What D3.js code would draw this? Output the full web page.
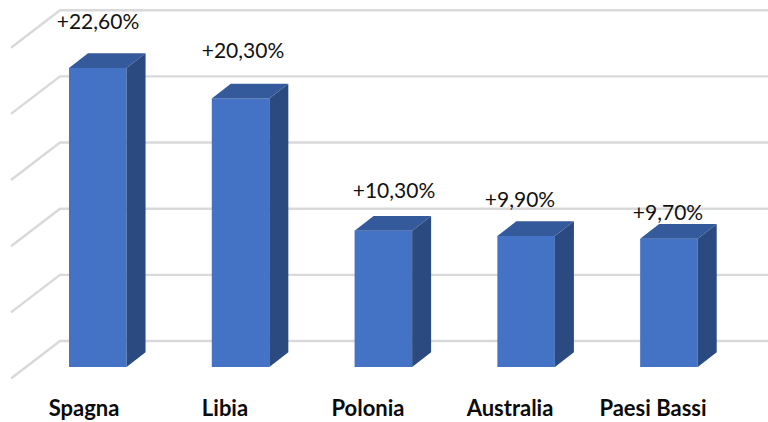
<!DOCTYPE html>
<html><head><meta charset="utf-8">
<script src="https://cdn.jsdelivr.net/npm/d3@7"></script>
<style>html,body{margin:0;padding:0;background:#fff}svg{display:block}</style>
</head><body><div id="c"></div>
<script>
const categories = ["Spagna","Libia","Polonia","Australia","Paesi Bassi"];
const values = [22.6,20.3,10.3,9.9,9.7];
const valueLabels = ["+22,60%","+20,30%","+10,30%","+9,90%","+9,70%"];
const gridTicks = [0,5,10,15,20,25];

const W=768,H=422;
const svg=d3.select("#c").append("svg").attr("width",W).attr("height",H);
const base=367, unit=13.23;
const y=d3.scaleLinear().domain([0,25]).range([base,base-25*unit]);
const x=d3.scaleBand().domain(categories).range([-2.4,769.1]).paddingInner(0.597).paddingOuter(0.5);
const sx=19, sy=-14.7;
const gridBack=-26, wallX=60, wallFrontX=11, floorDy=37.5;

const g=svg.append("g");
gridTicks.forEach(t=>{
  const yy=y(t)+gridBack;
  g.append("path").attr("d",d3.line()([[wallFrontX,yy+floorDy],[wallX,yy],[768,yy]]))
   .attr("fill","none").attr("stroke","#d9d9d9").attr("stroke-width",2.4);
});
categories.forEach((c,i)=>{
  const x0=x(c), x1=x0+x.bandwidth(), t=y(values[i]);
  g.append("rect").attr("x",x0).attr("y",t).attr("width",x.bandwidth()).attr("height",base-t).attr("fill","#4472c4");
  g.append("path").attr("fill","#2a4a80").attr("d",d3.line()([[x1,t],[x1+sx,t+sy],[x1+sx,base+sy],[x1,base]])+"Z");
  g.append("path").attr("fill","#345a9b").attr("d",d3.line()([[x0,t],[x0+sx,t+sy],[x1+sx,t+sy],[x1,t]])+"Z");
});
const valCx=[98,243,394,520,668], valBase=[29,58,198,207,220];
const catCx=[84,225,368,510,653];
categories.forEach((c,i)=>{
  svg.append("text").attr("x",valCx[i]).attr("y",valBase[i]).attr("text-anchor","middle")
    .attr("font-family","Lato, sans-serif").attr("font-size",21).attr("fill","#111").text(valueLabels[i]);
  svg.append("text").attr("x",catCx[i]).attr("y",416).attr("text-anchor","middle")
    .attr("font-family","Lato, sans-serif").attr("font-weight",700).attr("font-size",22).attr("fill","#0b0b0b").text(c);
});
</script></body></html>
